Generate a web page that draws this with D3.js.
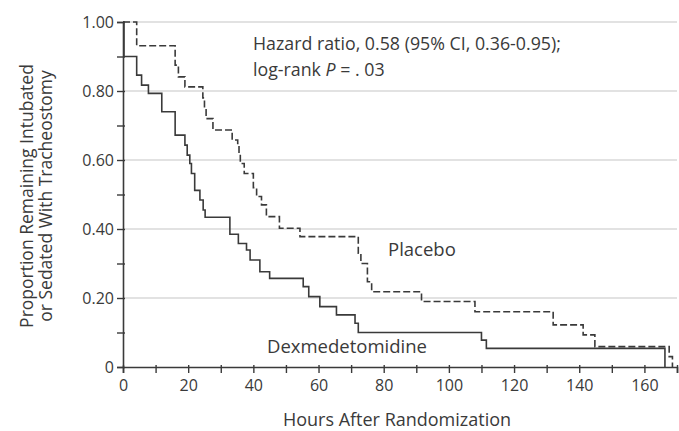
<!DOCTYPE html>
<html><head><meta charset="utf-8">
<script src="https://cdn.jsdelivr.net/npm/d3@7"></script>
<style>body{margin:0;background:#fff;} text{font-family:"Open Sans","Liberation Sans",sans-serif;fill:#3a3a3a;}</style>
</head><body><svg id="c" width="679" height="431"></svg>
<script>
// Kaplan-Meier step data: event times (hours) and survival proportion after each event
const dexTimes  = [0, 0.3, 4.2, 5.7, 7.8, 11.9, 16, 19.0, 19.7, 20.5, 21, 22, 23.6, 24.6, 25.2, 32.8, 35.4, 37.9, 39, 42, 45, 55.3, 57, 60.4, 65.5, 71.2, 72.2, 110, 111.5, 166.3];
const dexValues = [1.0, 0.90, 0.846, 0.817, 0.793, 0.74, 0.672, 0.643, 0.614, 0.59, 0.561, 0.512, 0.484, 0.455, 0.434, 0.385, 0.358, 0.339, 0.31, 0.276, 0.257, 0.233, 0.204, 0.175, 0.151, 0.127, 0.10, 0.078, 0.054, 0.0];
const plaTimes  = [0, 4.2, 16, 17, 19, 24.5, 25, 25.5, 27.6, 33.5, 35.2, 35.6, 36, 37.2, 40, 41, 42.5, 44, 48, 54.3, 72.2, 73, 75, 76.3, 91.6, 108, 132, 141.2, 144.8, 167.6, 168.6];
const plaValues = [1.0, 0.931, 0.875, 0.841, 0.812, 0.78, 0.75, 0.72, 0.687, 0.658, 0.648, 0.62, 0.59, 0.561, 0.52, 0.494, 0.47, 0.436, 0.402, 0.378, 0.33, 0.30, 0.247, 0.218, 0.19, 0.16, 0.122, 0.093, 0.059, 0.03, 0.0];
const dexEnd = 166.3, plaEnd = 168.6;
const xTickValues = d3.range(0, 171, 10);
const xTickLabels = [0, 20, 40, 60, 80, 100, 120, 140, 160];
const yTickValues = d3.range(0, 1.0001, 0.1);
const yTickLabels = [0, 0.2, 0.4, 0.6, 0.8, 1.0];
const annotation1 = "Hazard ratio, 0.58 (95% CI, 0.36-0.95);";
const seriesNames = ["Placebo", "Dexmedetomidine"];

const svg = d3.select("#c");
const x = d3.scaleLinear().domain([0, 170]).range([123, 677]);
const y = d3.scaleLinear().domain([0, 1]).range([367, 22]);
const ink = "#3a3a3a";

// gridlines
svg.append("g").selectAll("line").data([0.2, 0.4, 0.6, 0.8, 1.0]).join("line")
  .attr("x1", x(0)).attr("x2", x(170)).attr("y1", d => y(d)).attr("y2", d => y(d))
  .attr("stroke", "#e2e2e2").attr("stroke-width", 2);

// axes
const xAxis = d3.axisBottom(x).tickValues(xTickValues).tickSize(6)
  .tickFormat(d => xTickLabels.includes(d) ? d : "");
const gx = svg.append("g").attr("transform", `translate(0,${y(0)})`).call(xAxis);
gx.select(".domain").attr("stroke", ink).attr("stroke-width", 1.6);
gx.selectAll(".tick line").attr("stroke", ink).attr("stroke-width", 1.4).attr("y1", -2);
gx.selectAll(".tick text").attr("font-size", 16).attr("y", 10).attr("dy", "0.85em").attr("fill", ink)
  .style("font-family", "'Open Sans',sans-serif");

const fmtY = d => d === 0 ? "0" : d3.format(".2f")(d);
const yAxis = d3.axisLeft(y).tickValues(yTickValues).tickSize(6)
  .tickFormat(d => yTickLabels.some(v => Math.abs(v - d) < 1e-6) ? fmtY(Math.round(d * 10) / 10) : "");
const gy = svg.append("g").attr("transform", `translate(${x(0)},0)`).call(yAxis);
gy.select(".domain").attr("stroke", ink).attr("stroke-width", 1.6);
gy.selectAll(".tick line").attr("stroke", ink).attr("stroke-width", 1.4).attr("x1", 2);
gy.selectAll(".tick text").attr("font-size", 16).attr("fill", ink).attr("x", -9)
  .style("font-family", "'Open Sans',sans-serif");

// step curves
function stepPts(times, values, end) {
  const pts = times.map((t, i) => [t, values[i]]);
  pts.push([end, values[values.length - 1]]);
  return pts;
}
const line = d3.line().x(d => x(d[0])).y(d => y(d[1])).curve(d3.curveStepAfter);
svg.append("path").datum(stepPts(plaTimes, plaValues, plaEnd)).attr("d", line)
  .attr("fill", "none").attr("stroke", ink).attr("stroke-width", 1.6).attr("stroke-dasharray", "7,3");
svg.append("path").datum(stepPts(dexTimes, dexValues, dexEnd)).attr("d", line)
  .attr("fill", "none").attr("stroke", ink).attr("stroke-width", 1.6);

// annotations
svg.append("text").attr("x", 253).attr("y", 50).attr("font-size", 17.8).text(annotation1);
const t2 = svg.append("text").attr("x", 253).attr("y", 76).attr("font-size", 17.8);
t2.append("tspan").text("log-rank ");
t2.append("tspan").attr("font-style", "italic").text("P");
t2.append("tspan").text(" = . 03");

svg.append("text").attr("x", 388).attr("y", 256).attr("font-size", 18.5).text(seriesNames[0]);
svg.append("text").attr("x", 267).attr("y", 353).attr("font-size", 18.5).text(seriesNames[1]);

// axis titles
svg.append("text").attr("x", 397).attr("y", 426).attr("text-anchor", "middle").attr("font-size", 18)
  .text("Hours After Randomization");
const yt = svg.append("text").attr("transform", "translate(0,196) rotate(-90)").attr("text-anchor", "middle").attr("font-size", 17.5);
yt.append("tspan").attr("x", 0).attr("y", 33).text("Proportion Remaining Intubated");
yt.append("tspan").attr("x", 0).attr("y", 52).text("or Sedated With Tracheostomy");
</script></body></html>
